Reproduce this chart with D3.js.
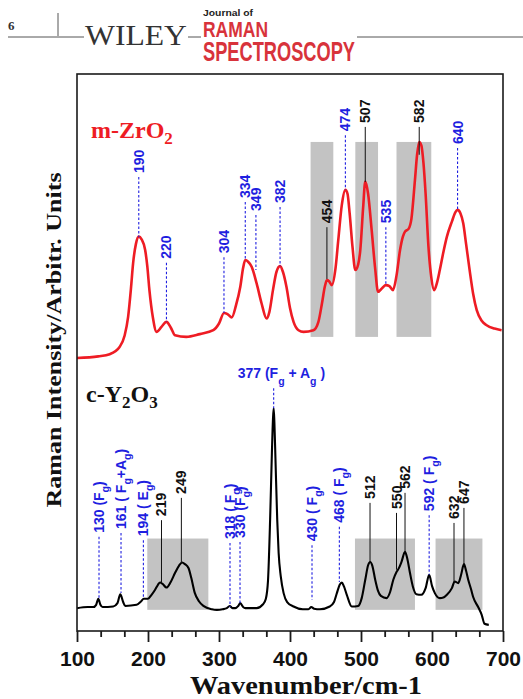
<!DOCTYPE html>
<html><head><meta charset="utf-8">
<script src="https://cdn.jsdelivr.net/npm/d3@7/dist/d3.min.js"></script>
<style>body{margin:0;background:#fff}svg{display:block}</style>
</head><body><svg id="c" width="523" height="699"></svg>
<script>
// ---- data ----
const xTicks = [100, 200, 300, 400, 500, 600, 700];
const xLabel = "Wavenumber/cm-1";
const yLabel = "Raman Intensity/Arbitr. Units";

const zrWn = [100,130,146,160,167,172,176,179,183,187,191,196,199,202,207,212,219,226,232,238,254,273,292,300,307,312,318,324,330,334,337,341,346,353,360,367,371,376,381,386,390,395,400,405,412,419,433,440,445,449,452,455,459,464,468,473,478,481,484,488,492,496,499,503,506,510,515,520,524,530,535,540,545,550,555,559,562,567,571,576,579,582,585,588,591,595,599,603,607,611,616,621,628,633,636,640,644,648,653,658,663,670,677,688,698];
const zrI  = [49.0,49.3,49.7,51.0,53.0,56.4,61.5,66.0,69.5,70.8,70.3,68.4,65.5,61.2,56.2,53.7,54.6,55.5,54.5,53.1,52.8,53.3,54.0,55.2,57.1,56.9,56.3,58.5,61.8,65.2,66.6,66.3,65.4,62.4,58.8,56.1,57.3,61.2,64.5,65.5,64.5,61.8,58.0,55.5,54.0,53.7,54.0,55.5,58.8,61.8,63.0,62.8,62.1,65.0,70.2,76.5,79.2,78.5,75.0,69.0,64.8,65.8,68.4,76.0,80.7,78.5,72.0,65.0,60.9,61.6,62.1,61.9,61.2,63.8,68.4,70.8,71.7,72.2,74.0,81.0,85.5,87.8,87.2,84.0,78.5,69.0,63.5,61.2,62.5,64.8,68.0,70.8,73.5,75.2,75.6,75.0,73.2,69.5,64.8,60.5,57.6,55.7,54.9,54.3,54.0];

const yWn = [100,115,123,127,130,133,136,151,157,161,165,168,184,190,194,200,205,210,214,217,221,226,232,238,244,248,252,257,261,266,272,278,290,297,305,311,315,319,323,327,330,334,337,353,362,366,369,372,374.5,376,377,378,379.5,382,384,387,391,396,405,418,426,430,434,442,456,462,466,470,473,476,480,487,496,501,506,510,513,516,520,524,528,536,541,545.5,550,553,557,562,565,569,573,578,585,591,596,600,604,611,616,621,628,632,637,641,645,648,651,655,658,665,670,674,680];
const yI  = [4.1,4.3,4.3,4.7,5.8,4.7,4.3,4.4,5.0,6.6,5.2,4.5,4.7,5.3,5.8,5.8,6.5,7.4,8.3,8.7,8.4,7.8,8.8,10.4,11.8,12.3,12.0,11.3,9.5,6.8,5.3,4.5,3.9,3.8,3.9,4.1,4.5,4.1,4.1,4.5,5.0,4.3,4.1,4.1,4.8,5.8,9.0,20.0,32.0,38.0,40.0,37.5,31.0,20.0,14.0,9.8,6.8,5.2,4.4,3.9,3.9,4.3,4.0,3.9,4.4,5.2,6.8,8.3,8.7,8.0,6.5,4.4,4.5,5.9,9.2,11.8,12.4,11.7,9.2,7.2,6.3,5.9,7.0,9.2,10.6,11.2,12.4,14.2,13.1,10.4,8.0,6.6,6.5,7.7,10.1,8.1,6.8,5.9,6.0,6.5,7.7,8.9,8.6,10.1,12.0,10.8,9.2,7.5,6.1,4.3,2.9,1.3,1.1];

// annotations: [text, wavenumber, line top intensity, line bottom intensity, kind]
const zrPeaks = [
  ["190",187,81.5,70.7,"b"],["220",226,66.1,55.5,"b"],["304",307,67.1,57.1,"b"],
  ["334",337,77.0,66.6,"b"],["349",352,74.7,64.8,"b"],["382",386,76.1,65.5,"b"],
  ["454",452,72.5,63.2,"k"],["474",478,89.0,79.2,"b"],["507",506,90.5,80.6,"k"],
  ["535",535,72.5,62.1,"b"],["582",582,90.5,85.5,"k"],["640",636,86.7,75.6,"b"]
];
const yPeaks = [
  ["130 (F_g)",131,16.9,5.9,"b"],["161 ( F_g+A_g)",162,17.6,6.8,"b"],["194 ( E_g)",193.5,16.3,5.9,"b"],
  ["219",219,19.9,8.6,"k"],["249",247,23.9,12.2,"k"],["318 ( F_g)",315.5,15.8,4.3,"b"],
  ["330 (F_g)",329.6,16.0,5.0,"b"],["430 ( F_g)",431,15.4,5.6,"b"],["468 ( F_g)",469.5,18.7,8.8,"b"],
  ["512",512.7,23.0,12.4,"k"],["550",550,21.2,11.0,"k"],["562",562,24.8,14.2,"k"],
  ["592 ( F_g)",596,20.8,10.1,"b"],["632",631,19.4,8.8,"k"],["647",645,22.1,12.0,"k"]
];
const mainPeak = ["377 (F_g + A_g )", 377, 43.6, 40.0];
const zrBands = [[429,461],[492,524],[550,599]];
const zrBandI = [52.8, 87.8];
const yBands = [[199,285],[491.5,576],[605,671]];
const yBandI = [3.8, 16.6];
const zrName = "m-ZrO_2";
const yName = "c-Y_2O_3";

// ---- drawing ----
const svg = d3.select("#c");
const L = 77, R = 503, T = 74, B = 631;
const x = d3.scaleLinear().domain([100, 700]).range([L, R]);
const y = d3.scaleLinear().domain([0, 100]).range([B, T]);
const BLUE = "#1f1fe0", RED = "#ee1c24", SANS = "Liberation Sans, Arial, sans-serif", SERIF = "Liberation Serif, Times New Roman, serif";

function rich(t, str, base, sub, shift) {
  const segs = []; let i = 0;
  while (i < str.length) {
    if (str[i] === "_") { segs.push({t: str[i+1], s: true}); i += 2; }
    else { let j = i; while (j < str.length && str[j] !== "_") j++; segs.push({t: str.slice(i, j), s: false}); i = j; }
  }
  let cur = 0;
  segs.forEach(sg => {
    const target = sg.s ? shift : 0;
    t.append("tspan").attr("dy", target - cur).attr("font-size", sg.s ? sub : base).text(sg.t);
    cur = target;
  });
}

// header
const H = svg.append("g");
H.append("text").attr("x", 8).attr("y", 30).attr("font-family", SERIF).attr("font-weight", "bold").attr("font-size", 13).attr("fill", "#333").text("6");
H.append("line").attr("x1", 8).attr("x2", 84).attr("y1", 37).attr("y2", 37).attr("stroke", "#555").attr("stroke-width", 1);
H.append("line").attr("x1", 58).attr("x2", 58).attr("y1", 13).attr("y2", 36).attr("stroke", "#555").attr("stroke-width", 1);
H.append("text").attr("x", 85).attr("y", 45).attr("font-family", SERIF).attr("font-size", 29).attr("fill", "#333")
  .attr("textLength", 102).attr("lengthAdjust", "spacingAndGlyphs").text("WILEY");
H.append("line").attr("x1", 188).attr("x2", 201).attr("y1", 37).attr("y2", 37).attr("stroke", "#555").attr("stroke-width", 1);
H.append("text").attr("x", 203).attr("y", 16).attr("font-family", SANS).attr("font-weight", "bold").attr("font-size", 9.5).attr("fill", "#222")
  .attr("textLength", 50).attr("lengthAdjust", "spacingAndGlyphs").text("Journal of");
H.append("text").attr("x", 203).attr("y", 37).attr("font-family", SANS).attr("font-weight", "bold").attr("font-size", 22).attr("fill", "#d8333b")
  .attr("textLength", 65).attr("lengthAdjust", "spacingAndGlyphs").text("RAMAN");
H.append("text").attr("x", 203).attr("y", 61).attr("font-family", SANS).attr("font-weight", "bold").attr("font-size", 28).attr("fill", "#d8333b")
  .attr("textLength", 152).attr("lengthAdjust", "spacingAndGlyphs").text("SPECTROSCOPY");
H.append("line").attr("x1", 357).attr("x2", 523).attr("y1", 37).attr("y2", 37).attr("stroke", "#555").attr("stroke-width", 1);

// bands
const bandG = svg.append("g").attr("fill", "#c3c3c3");
zrBands.forEach(b => bandG.append("rect").attr("x", x(b[0])).attr("width", x(b[1]) - x(b[0]))
  .attr("y", y(zrBandI[1])).attr("height", y(zrBandI[0]) - y(zrBandI[1])));
yBands.forEach(b => bandG.append("rect").attr("x", x(b[0])).attr("width", x(b[1]) - x(b[0]))
  .attr("y", y(yBandI[1])).attr("height", y(yBandI[0]) - y(yBandI[1])));

// curves
const line = d3.line().x(d => x(d[0])).y(d => y(d[1])).curve(d3.curveMonotoneX);
svg.append("path").datum(zrWn.map((w, i) => [w, zrI[i]])).attr("d", line)
  .attr("fill", "none").attr("stroke", RED).attr("stroke-width", 2.6).attr("stroke-linejoin", "round");
svg.append("path").datum(yWn.map((w, i) => [w, yI[i]])).attr("d", line)
  .attr("fill", "none").attr("stroke", "#000").attr("stroke-width", 2.1).attr("stroke-linejoin", "round");

// annotations
function annotate(list) {
  list.forEach(p => {
    const [txt, wn, top, bot, kind] = p;
    const blue = kind === "b";
    svg.append("line").attr("x1", x(wn)).attr("x2", x(wn)).attr("y1", y(top)).attr("y2", y(bot))
      .attr("stroke", blue ? BLUE : "#111").attr("stroke-width", blue ? 1.1 : 1)
      .attr("stroke-dasharray", blue ? "2.5,2" : null);
    const t = svg.append("text").attr("transform", `translate(${x(wn) + 5},${y(top) - 4}) rotate(-90)`)
      .attr("font-family", SANS).attr("font-weight", "bold").attr("fill", blue ? BLUE : "#111");
    rich(t, txt, 14, 10.5, 5);
  });
}
annotate(zrPeaks);
annotate(yPeaks);
svg.append("line").attr("x1", x(mainPeak[1])).attr("x2", x(mainPeak[1])).attr("y1", y(mainPeak[2])).attr("y2", y(mainPeak[3]))
  .attr("stroke", BLUE).attr("stroke-width", 1.1).attr("stroke-dasharray", "2.5,2");
const mt = svg.append("text").attr("x", x(mainPeak[1]) - 36).attr("y", y(mainPeak[2]) - 10)
  .attr("font-family", SANS).attr("font-weight", "bold").attr("fill", BLUE);
rich(mt, mainPeak[0], 14, 10.5, 7);

// series names
const zn = svg.append("text").attr("x", 91).attr("y", 138).attr("font-family", SERIF).attr("font-weight", "bold").attr("fill", RED);
rich(zn, zrName, 24, 17, 6);
const yn = svg.append("text").attr("x", 86).attr("y", 402).attr("font-family", SERIF).attr("font-weight", "bold").attr("fill", "#111");
rich(yn, yName, 24, 17, 6);

// frame
svg.append("rect").attr("x", L).attr("y", T).attr("width", R - L).attr("height", B - T)
  .attr("fill", "none").attr("stroke", "#1a1a1a").attr("stroke-width", 1.6);

// axes
const minor = d3.range(0, 19).map(i => 100 + i * 100 / 3).filter(v => Math.abs(v / 100 - Math.round(v / 100)) > 0.01);
const gMin = svg.append("g").attr("transform", `translate(0,${B})`)
  .call(d3.axisBottom(x).tickValues(minor).tickSize(6).tickFormat(""));
const gMaj = svg.append("g").attr("transform", `translate(0,${B})`)
  .call(d3.axisBottom(x).tickValues(xTicks).tickSize(11).tickPadding(9).tickFormat(d3.format("d")));
[gMin, gMaj].forEach(g => {
  g.select(".domain").remove();
  g.selectAll(".tick line").attr("stroke", "#1a1a1a").attr("stroke-width", 1.8);
});
gMaj.selectAll(".tick text").attr("font-family", SANS).attr("font-weight", "bold").attr("font-size", 21).attr("fill", "#111");

svg.append("text").attr("x", 306).attr("y", 693.5).attr("text-anchor", "middle")
  .attr("font-family", SERIF).attr("font-weight", "bold").attr("font-size", 26).attr("fill", "#111")
  .attr("textLength", 232).attr("lengthAdjust", "spacingAndGlyphs").text(xLabel);
svg.append("text").attr("transform", "translate(61,340) rotate(-90)").attr("text-anchor", "middle")
  .attr("font-family", SERIF).attr("font-weight", "bold").attr("font-size", 21).attr("fill", "#111")
  .attr("textLength", 335).attr("lengthAdjust", "spacingAndGlyphs").text(yLabel);
</script></body></html>
